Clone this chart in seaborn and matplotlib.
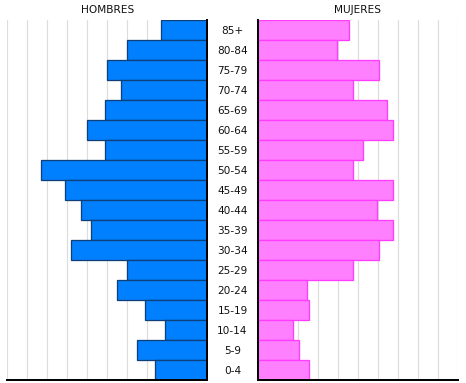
import matplotlib
matplotlib.use("Agg")
import matplotlib.pyplot as plt
import seaborn as sns
import pandas as pd

ages = ["85+", "80-84", "75-79", "70-74", "65-69", "60-64", "55-59", "50-54",
        "45-49", "40-44", "35-39", "30-34", "25-29", "20-24", "15-19", "10-14",
        "5-9", "0-4"]
hombres = [2.3, 4.0, 5.0, 4.3, 5.1, 6.0, 5.1, 8.3, 7.1, 6.3, 5.8, 6.8,
           4.0, 4.5, 3.1, 2.1, 3.5, 2.6]
mujeres = [4.55, 3.95, 6.05, 4.75, 6.45, 6.75, 5.25, 4.75, 6.75, 5.95, 6.75,
           6.05, 4.75, 2.45, 2.55, 1.75, 2.05, 2.55]
titles = ["HOMBRES", "MUJERES"]

sns.set_theme(style="white")
plt.rcParams["font.family"] = ["DejaVu Sans"]

W, H, DPI = 466, 383, 100
fig = plt.figure(figsize=(W / DPI, H / DPI), dpi=DPI)
px = 72 / DPI
FS = 7.6

def ax_rect(x0, y0, w, h):
    return [x0 / W, (H - y0 - h) / H, w / W, h / H]

ax_l = fig.add_axes(ax_rect(7, 20, 200, 360))
ax_r = fig.add_axes(ax_rect(258, 20, 200, 360))

df_h = pd.DataFrame({"age": ages, "val": hombres})
df_m = pd.DataFrame({"age": ages, "val": mujeres})

sns.barplot(data=df_h, x="val", y="age", orient="h", order=ages, width=1.0,
            color="#0080FF", saturation=1, edgecolor="#0F3F78",
            linewidth=1.3 * px, ax=ax_l)
sns.barplot(data=df_m, x="val", y="age", orient="h", order=ages, width=1.0,
            color="#FF80FF", saturation=1, edgecolor="#FF3CFF",
            linewidth=1.3 * px, ax=ax_r)

for ax in (ax_l, ax_r):
    ax.set_ylim(len(ages) - 0.5, -0.5)
    ax.set_xticks(range(0, 11))
    ax.set_xticklabels([])
    ax.grid(axis="x", color="#dddddd", linewidth=1.2 * px)
    ax.grid(axis="y", visible=False)
    ax.set_axisbelow(True)
    ax.set_xlabel("")
    ax.set_ylabel("")
    ax.tick_params(length=0)
    ax.set_facecolor("white")
    for s in ax.spines.values():
        s.set_visible(False)
    ax.spines["bottom"].set_visible(True)
    ax.spines["bottom"].set_color("black")
    ax.spines["bottom"].set_linewidth(2 * px)

ax_l.set_xlim(10, 0)
ax_r.set_xlim(0, 10)

ax_l.spines["right"].set_visible(True)
ax_l.spines["right"].set_color("black")
ax_l.spines["right"].set_linewidth(2 * px)
ax_r.spines["left"].set_visible(True)
ax_r.spines["left"].set_color("black")
ax_r.spines["left"].set_linewidth(2 * px)

# age labels in the middle
ax_l.yaxis.tick_right()
ax_l.set_yticks(range(len(ages)))
ax_l.set_yticklabels(ages, fontsize=FS, color="#111111")
for lbl in ax_l.get_yticklabels():
    lbl.set_horizontalalignment("center")
ax_l.tick_params(axis="y", pad=25.5 * px)
ax_r.set_yticks(range(len(ages)))
ax_r.set_yticklabels([])

fig.text(107.5 / W, 1 - 9.7 / H, titles[0], ha="center", va="center",
         fontsize=FS, color="#111111")
fig.text(357.3 / W, 1 - 9.7 / H, titles[1], ha="center", va="center",
         fontsize=FS, color="#111111")

fig.savefig("out.png", dpi=DPI)
